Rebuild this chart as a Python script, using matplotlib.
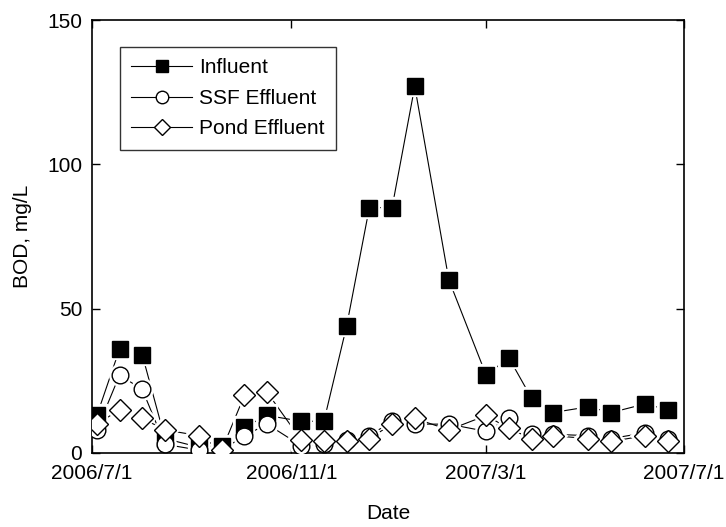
import numpy as np
import pandas as pd
import matplotlib
matplotlib.use("Agg")
import matplotlib.pyplot as plt
from matplotlib.lines import Line2D

plt.rcParams['font.family'] = ['Liberation Sans', 'DejaVu Sans']

# sampling dates
dates = pd.to_datetime([
    '2006-07-04', '2006-07-18', '2006-08-01', '2006-08-15', '2006-09-05',
    '2006-09-19', '2006-10-03', '2006-10-17', '2006-11-07', '2006-11-21',
    '2006-12-05', '2006-12-19', '2007-01-02', '2007-01-16', '2007-02-06',
    '2007-03-01', '2007-03-15', '2007-03-29', '2007-04-11', '2007-05-03',
    '2007-05-17', '2007-06-07', '2007-06-21'])

influent = [13, 36, 34, 5, 2, 2.5, 9, 13, 11, 11, 44, 85, 85, 127, 60,
            27, 33, 19, 14, 16, 14, 17, 15]
ssf = [8, 27, 22, 3, 1, 1, 6, 10, 2.5, 3, 4.5, 6, 11, 10, 10,
       7.5, 12, 6.5, 6.5, 6, 5, 7, 5]
pond = [10, 15, 12, 8, 6, 1, 20, 21, 4.5, 4, 4, 5, 10, 12, 8,
        13, 8.5, 5, 6, 5, 4, 6, 4]

xticks = pd.to_datetime(['2006-07-01', '2006-11-01', '2007-03-01', '2007-07-01'])
xticklabels = ['2006/7/1', '2006/11/1', '2007/3/1', '2007/7/1']
yticks = [0, 50, 100, 150]

series = [
    ("Influent", influent, 's', 12, 'black'),
    ("SSF Effluent", ssf, 'o', 12, 'white'),
    ("Pond Effluent", pond, 'D', 11, 'white'),
]

W, H = 726, 527
fig = plt.figure(figsize=(W / 100, H / 100), dpi=100)
ax = fig.add_axes([92 / W, (H - 453) / H, 592 / W, 433 / H])

# lines first, then white masks so lines stop short of the symbols
for name, vals, m, ms, fc in series:
    ax.plot(dates, vals, color='black', lw=0.8, zorder=1)
    ax.plot(dates, vals, ls='none', marker=m, ms=ms, mfc='white',
            mec='white', mew=4.5, zorder=2)

handles = []
for i, (name, vals, m, ms, fc) in enumerate(series):
    ax.plot(dates, vals, ls='none', marker=m, ms=ms, mfc=fc,
            mec='black', mew=1.0, zorder=3 + i)
    handles.append(Line2D([], [], color='black', lw=0.8, marker=m, ms=ms * 0.75,
                          mfc=fc, mec='black', mew=1.0))

ax.set_xlim(xticks[0], xticks[-1])
ax.set_ylim(0, 150)
ax.set_xticks(xticks)
ax.set_xticklabels(xticklabels)
ax.set_yticks(yticks)
ax.tick_params(direction='in', top=True, right=True, length=6, width=1,
               labelsize=15)
ax.tick_params(axis='x', pad=8)
ax.tick_params(axis='y', pad=7)
for s in ax.spines.values():
    s.set_linewidth(1.2)

ax.set_xlabel("Date", fontsize=15, labelpad=15)
ax.set_ylabel("BOD, mg/L", fontsize=15, labelpad=11)

leg = ax.legend(handles, [s[0] for s in series], loc='upper left',
                bbox_to_anchor=(120 / W, 1 - 47 / H), bbox_transform=fig.transFigure,
                borderaxespad=0, fontsize=15, frameon=True, fancybox=False,
                handlelength=2.9, handletextpad=0.35, labelspacing=0.55,
                borderpad=0.55)
leg.get_frame().set_edgecolor('black')
leg.get_frame().set_linewidth(1.0)

fig.savefig("out.png", dpi=100)
